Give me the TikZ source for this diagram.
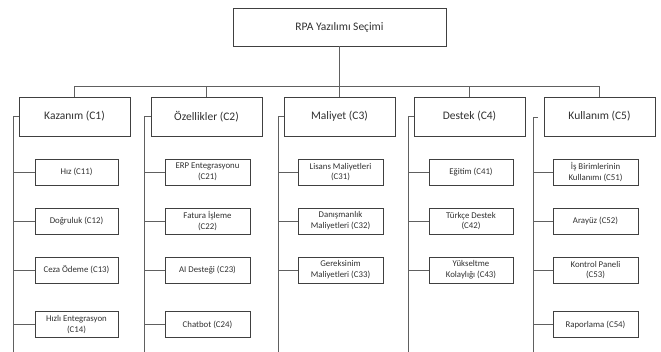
\documentclass[tikz,border=0pt]{standalone}
\usepackage{fontspec}
\setmainfont{Carlito}
\definecolor{boxc}{HTML}{404040}
\definecolor{linec}{HTML}{606060}
\definecolor{txtc}{HTML}{303030}
\begin{document}
\begin{tikzpicture}[x=1pt,y=-1pt,
  topbox/.style={draw=boxc,line width=0.9pt,minimum width=213pt,minimum height=38pt,inner sep=0pt,text=txtc,font=\fontsize{11.5}{13}\selectfont},
  mainbox/.style={draw=boxc,line width=0.9pt,minimum width=111pt,minimum height=39pt,inner sep=0pt,text=txtc,font=\fontsize{11.5}{13}\selectfont},
  subbox/.style={draw=boxc,line width=0.8pt,minimum width=84pt,minimum height=26pt,inner sep=1pt,align=center,text=txtc,font=\fontsize{8.8}{10.8}\selectfont},
  conn/.style={draw=linec,line width=0.9pt}]
\useasboundingbox (0,0) rectangle (661,352);
\node[topbox] (top) at (339.5,27) {RPA Yazılımı Seçimi};
\node[mainbox] (c1) at (74.5,116.5) {Kazanım (C1)};
\node[mainbox] (c2) at (206.5,116.5) {Özellikler (C2)};
\node[mainbox] (c3) at (339.5,116.5) {Maliyet (C3)};
\node[mainbox] (c4) at (469.5,116.5) {Destek (C4)};
\node[mainbox] (c5) at (599.5,116.5) {Kullanım (C5)};
% children
\node[subbox,minimum width=83pt] (c11) at (76.5,172) {Hız (C11)};
\node[subbox,minimum width=83pt] (c12) at (76.5,221) {Doğruluk (C12)};
\node[subbox,minimum width=83pt] (c13) at (76.5,270) {Ceza Ödeme (C13)};
\node[subbox,minimum width=83pt] (c14) at (76.5,324.5) {Hızlı Entegrasyon\\(C14)};
\node[subbox,minimum width=85pt] (c21) at (207.5,172) {ERP Entegrasyonu\\(C21)};
\node[subbox,minimum width=85pt] (c22) at (207.5,221) {Fatura İşleme\\(C22)};
\node[subbox,minimum width=85pt] (c23) at (207.5,270) {AI Desteği (C23)};
\node[subbox,minimum width=85pt] (c24) at (207.5,324.5) {Chatbot (C24)};
\node[subbox,minimum width=85pt] (c31) at (340.5,172) {Lisans Maliyetleri\\(C31)};
\node[subbox,minimum width=85pt] (c32) at (340.5,221) {Danışmanlık\\Maliyetleri (C32)};
\node[subbox,minimum width=85pt] (c33) at (340.5,270) {Gereksinim\\Maliyetleri (C33)};
\node[subbox,minimum width=84pt] (c41) at (471,172) {Eğitim (C41)};
\node[subbox,minimum width=84pt] (c42) at (471,221) {Türkçe Destek\\(C42)};
\node[subbox,minimum width=84pt] (c43) at (471,270) {Yükseltme\\Kolaylığı (C43)};
\node[subbox,minimum width=85pt] (c51) at (595.5,172) {İş Birimlerinin\\Kullanımı (C51)};
\node[subbox,minimum width=85pt] (c52) at (595.5,221) {Arayüz (C52)};
\node[subbox,minimum width=85pt] (c53) at (595.5,270) {Kontrol Paneli\\(C53)};
\node[subbox,minimum width=85pt] (c54) at (595.5,324.5) {Raporlama (C54)};
% coordinates
\coordinate (bus) at (0,86);
\coordinate (s1) at (13,352);
\coordinate (s2) at (144,352);
\coordinate (s3) at (278,352);
\coordinate (s4) at (408,352);
\coordinate (s5) at (533,352);
\coordinate (k5) at (538,117);
% top tree
\draw[conn] (top.south) -- (top.south |- bus);
\draw[conn] (c1.north |- bus) -- (c5.north |- bus);
\foreach \n in {c1,c2,c3,c4,c5} \draw[conn] (\n.north) -- (\n.north |- bus);
% spines
\draw[conn] (c1.west) -| (s1);
\draw[conn] (c2.west) -| (s2);
\draw[conn] (c3.west) -| (s3);
\draw[conn] (c4.west) -| (s4);
\draw[conn] (k5) -| (s5);
% branches
\foreach \n in {c11,c12,c13,c14} \draw[conn] (\n.west) -- (\n.west -| s1);
\foreach \n in {c21,c22,c23,c24} \draw[conn] (\n.west) -- (\n.west -| s2);
\foreach \n in {c31,c32,c33} \draw[conn] (\n.west) -- (\n.west -| s3);
\foreach \n in {c41,c42,c43} \draw[conn] (\n.west) -- (\n.west -| s4);
\foreach \n in {c51,c52,c53,c54} \draw[conn] (\n.west) -- (\n.west -| s5);
\end{tikzpicture}
\end{document}
